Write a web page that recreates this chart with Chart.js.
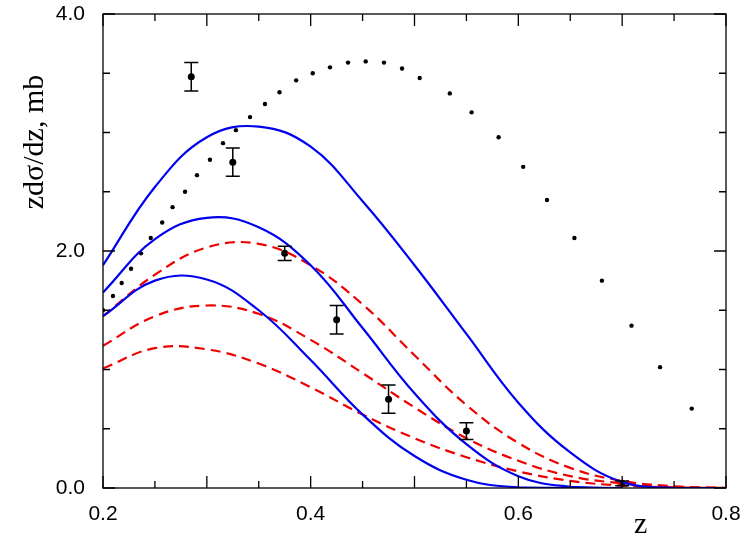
<!DOCTYPE html>
<html><head><meta charset="utf-8">
<script src="https://cdn.jsdelivr.net/npm/chart.js@4"></script>
<style>html,body{margin:0;padding:0;background:#fff}#w{width:744px;height:545px}</style>
</head><body><div id="w"><canvas id="c"></canvas></div>
<script>
const dotX=[0.2,0.2096,0.218,0.227,0.2366,0.246,0.257,0.267,0.279,0.2905,0.303,0.3156,0.328,0.3416,0.356,0.370,0.386,0.402,0.4186,0.436,0.453,0.4706,0.488,0.505,0.534,0.555,0.581,0.6047,0.6276,0.654,0.6805,0.709,0.7365,0.767];
const dotY=[1.50,1.62,1.73,1.85,1.98,2.11,2.24,2.37,2.50,2.64,2.77,2.91,3.02,3.13,3.24,3.34,3.44,3.50,3.55,3.59,3.60,3.59,3.54,3.46,3.33,3.17,2.96,2.71,2.43,2.11,1.75,1.37,1.02,0.67];
const expX=[0.285,0.325,0.375,0.425,0.475,0.55,0.7];
const expY=[3.47,2.75,1.98,1.42,0.75,0.48,0.04];
const expErr=[0.12,0.12,0.06,0.12,0.12,0.07,0.02];
const b1X=[0.2,0.25,0.3,0.35,0.4,0.45,0.5,0.55,0.6,0.65,0.7,0.75,0.8];
const b1Y=[1.88,2.54,2.96,3.05,2.88,2.42,1.88,1.3,0.72,0.3,0.05,0,0];
const b2X=[0.2,0.25,0.3,0.35,0.4,0.45,0.5,0.55,0.6,0.65,0.7];
const b2Y=[1.65,2.1,2.28,2.2,1.88,1.35,0.8,0.37,0.1,0.01,0];
const b3X=[0.2,0.25,0.3,0.35,0.4,0.45,0.5,0.55,0.6,0.65];
const b3Y=[1.45,1.75,1.76,1.5,1.08,0.62,0.27,0.07,0.005,0];
const r1X=[0.2,0.25,0.3,0.35,0.4,0.45,0.5,0.55,0.6,0.65,0.7,0.75,0.8];
const r1Y=[1.45,1.8,2.03,2.06,1.88,1.55,1.12,0.7,0.38,0.17,0.06,0.015,0];
const r2X=[0.2,0.25,0.3,0.35,0.4,0.45,0.5,0.55,0.6,0.65,0.7,0.75,0.8];
const r2Y=[1.2,1.45,1.54,1.47,1.25,0.97,0.68,0.42,0.23,0.1,0.04,0.01,0];
const r3X=[0.2,0.25,0.3,0.35,0.4,0.45,0.5,0.55,0.6,0.65,0.7,0.75,0.8];
const r3Y=[1.01,1.18,1.17,1.05,0.85,0.62,0.42,0.26,0.14,0.06,0.02,0.005,0];
const xLabels=[0.2,0.4,0.6,0.8];
const yLabels=[0,2,4];
const pts=(xs,ys)=>xs.map((x,i)=>({x,y:ys[i]}));
const line=(xs,ys,col,dash)=>({type:'line',data:pts(xs,ys),borderColor:col,borderWidth:2.2,borderDash:dash,pointRadius:0,tension:0.4,fill:false});
const deco={id:'deco',afterDraw(ch){
 const c=ch.ctx,a=ch.chartArea,xs=ch.scales.x,ys=ch.scales.y;
 c.save();c.strokeStyle='#000';c.lineWidth=1.3;
 c.strokeRect(a.left,a.top,a.right-a.left,a.bottom-a.top);
 for(let v=0.2;v<=0.8001;v+=0.05){const p=xs.getPixelForValue(v);const major=Math.abs(v*10-Math.round(v*10))<1e-6;const L=major?12:7;
  c.beginPath();c.moveTo(p,a.bottom);c.lineTo(p,a.bottom-L);c.moveTo(p,a.top);c.lineTo(p,a.top+L);c.stroke();}
 for(let v=0;v<=4.001;v+=0.5){const p=ys.getPixelForValue(v);const L=(Math.abs(v%2)<1e-6)?12:7;
  c.beginPath();c.moveTo(a.left,p);c.lineTo(a.left+L,p);c.moveTo(a.right,p);c.lineTo(a.right-L,p);c.stroke();}
 c.lineWidth=1.5;
 expX.forEach((x,i)=>{const px=xs.getPixelForValue(x),t=ys.getPixelForValue(expY[i]+expErr[i]),b=ys.getPixelForValue(expY[i]-expErr[i]);
  c.beginPath();c.moveTo(px,t);c.lineTo(px,b);c.moveTo(px-7,t);c.lineTo(px+7,t);c.moveTo(px-7,b);c.lineTo(px+7,b);c.stroke();});
 c.fillStyle='#000';c.font='30px "Liberation Serif"';
 c.textAlign='left';c.textBaseline='alphabetic';c.fillText('z',634,533);
 c.translate(43,142);c.rotate(-Math.PI/2);c.textAlign='center';c.fillText('zdσ/dz, mb',0,0);
 c.restore();}};
new Chart(document.getElementById('c'),{
 data:{datasets:[
  line(b1X,b1Y,'#0000ee',[]),line(b2X,b2Y,'#0000ee',[]),line(b3X,b3Y,'#0000ee',[]),
  line(r1X,r1Y,'#ee0000',[10,6]),line(r2X,r2Y,'#ee0000',[10,6]),line(r3X,r3Y,'#ee0000',[10,6]),
  {type:'scatter',data:pts(dotX,dotY),pointRadius:2.2,backgroundColor:'#000',borderWidth:0},
  {type:'scatter',data:pts(expX,expY),pointRadius:3.5,backgroundColor:'#000',borderWidth:0}
 ]},
 plugins:[deco],
 options:{responsive:true,maintainAspectRatio:false,animation:false,
  layout:{padding:{top:14,right:18,left:0,bottom:0}},
  plugins:{legend:{display:false},tooltip:{enabled:false}},
  scales:{
   x:{type:'linear',min:0.2,max:0.8,grid:{display:false},border:{display:false},
    afterFit(s){s.height=57;s.paddingLeft=0;s.paddingRight=0;},
    afterBuildTicks(s){s.ticks=xLabels.map(v=>({value:v}));},
    ticks:{color:'#000',font:{family:'Liberation Sans',size:21},padding:6,callback:v=>v.toFixed(1)}},
   y:{type:'linear',min:0,max:4,grid:{display:false},border:{display:false},
    afterFit(s){s.width=103;s.paddingTop=0;s.paddingBottom=0;},
    afterBuildTicks(s){s.ticks=yLabels.map(v=>({value:v}));},
    ticks:{color:'#000',font:{family:'Liberation Sans',size:21},padding:10,callback:v=>v.toFixed(1)}}
  }}
});
</script></body></html>
